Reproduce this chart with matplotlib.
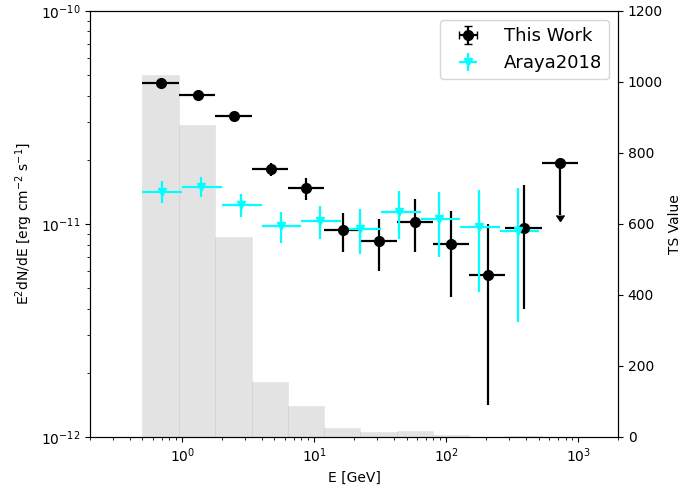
import numpy as np
import matplotlib
matplotlib.use("Agg")
import matplotlib.pyplot as plt

# ---------------------------------------------------------------------------
# This work: 12 log bins, SED points + TS per bin
# ---------------------------------------------------------------------------
bin_edges = np.array([0.5, 0.94, 1.78, 3.35, 6.3, 11.9, 22.4, 42.1,
                      79.3, 149, 280, 528, 1000])
e_this = np.array([0.695, 1.31, 2.47, 4.67, 8.73, 16.4, 30.7, 57.9,
                   109, 206, 385, 726])
f_this = np.array([4.60e-11, 4.04e-11, 3.22e-11, 1.81e-11, 1.48e-11, 9.37e-12,
                   8.35e-12, 1.02e-11, 8.09e-12, 5.77e-12, 9.57e-12, 1.93e-11])
f_this_lo = np.array([4.60e-11, 4.04e-11, 3.22e-11, 1.67e-11, 1.30e-11, 7.36e-12,
                      6.04e-12, 7.36e-12, 4.56e-12, 1.42e-12, 3.99e-12, 1.10e-11])
f_this_hi = np.array([4.60e-11, 4.04e-11, 3.22e-11, 1.93e-11, 1.64e-11, 1.12e-11,
                      1.055e-11, 1.306e-11, 1.154e-11, 1.00e-11, 1.52e-11, 1.93e-11])
is_ul = np.array([False] * 11 + [True])
ts_vals = np.array([1020, 879, 563, 155, 87, 25, 14, 17, 5.5, 0.5, 2.5, 0.3])

# ---------------------------------------------------------------------------
# Araya 2018
# ---------------------------------------------------------------------------
e_araya = np.array([0.700, 1.39, 2.81, 5.56, 11.0, 22.1, 43.6, 88.7, 177, 348])
e_araya_lo = np.array([0.5, 1.0, 2.0, 4.0, 8.0, 16.0, 32.0, 64.0, 128, 256])
e_araya_hi = np.array([1.0, 2.0, 4.0, 8.0, 16.0, 32.0, 64.0, 128, 256, 500])
f_araya = np.array([1.418e-11, 1.497e-11, 1.227e-11, 9.82e-12, 1.033e-11,
                    9.51e-12, 1.143e-11, 1.055e-11, 9.65e-12, 9.30e-12])
f_araya_lo = np.array([1.259e-11, 1.344e-11, 1.075e-11, 8.11e-12, 8.48e-12,
                       7.21e-12, 8.50e-12, 7.02e-12, 4.78e-12, 3.48e-12])
f_araya_hi = np.array([1.592e-11, 1.656e-11, 1.378e-11, 1.142e-11, 1.219e-11,
                       1.172e-11, 1.429e-11, 1.409e-11, 1.444e-11, 1.48e-11])

fig, ax = plt.subplots(figsize=(6.86, 4.91), dpi=100)
fig.subplots_adjust(left=0.131, right=0.901, bottom=0.110, top=0.978)

# TS histogram on the right-hand axis, kept behind the SED points
ax2 = ax.twinx()
ax2.bar(bin_edges[:-1], ts_vals, width=np.diff(bin_edges), align="edge",
        color="gray", alpha=0.22, edgecolor="#bbbbbb", linewidth=0.6)
ax2.set_ylim(0, 1200)
ax2.set_ylabel("TS Value")

ax.set_zorder(ax2.get_zorder() + 1)
ax.patch.set_visible(False)

xerr_this = [e_this - bin_edges[:-1], bin_edges[1:] - e_this]
yerr_this = [f_this - f_this_lo, f_this_hi - f_this]
yerr_this[1][is_ul] = 0
ax.errorbar(e_this, f_this, xerr=xerr_this, yerr=yerr_this, uplims=is_ul,
            fmt="o", color="black", ms=7, elinewidth=1.6, label="This Work")

ax.errorbar(e_araya, f_araya,
            xerr=[e_araya - e_araya_lo, e_araya_hi - e_araya],
            yerr=[f_araya - f_araya_lo, f_araya_hi - f_araya],
            fmt="v", color="cyan", ms=6, elinewidth=1.6, label="Araya2018")

ax.set_xscale("log")
ax.set_yscale("log")
ax.set_xlim(0.2, 2000)
ax.set_ylim(1e-12, 1e-10)
ax.set_xlabel("E [GeV]")
ax.set_ylabel(r"E$^2$dN/dE [erg cm$^{-2}$ s$^{-1}$]")
ax.legend(loc="upper right", fontsize=13, handlelength=2.3)

fig.savefig("out.png", dpi=100)
